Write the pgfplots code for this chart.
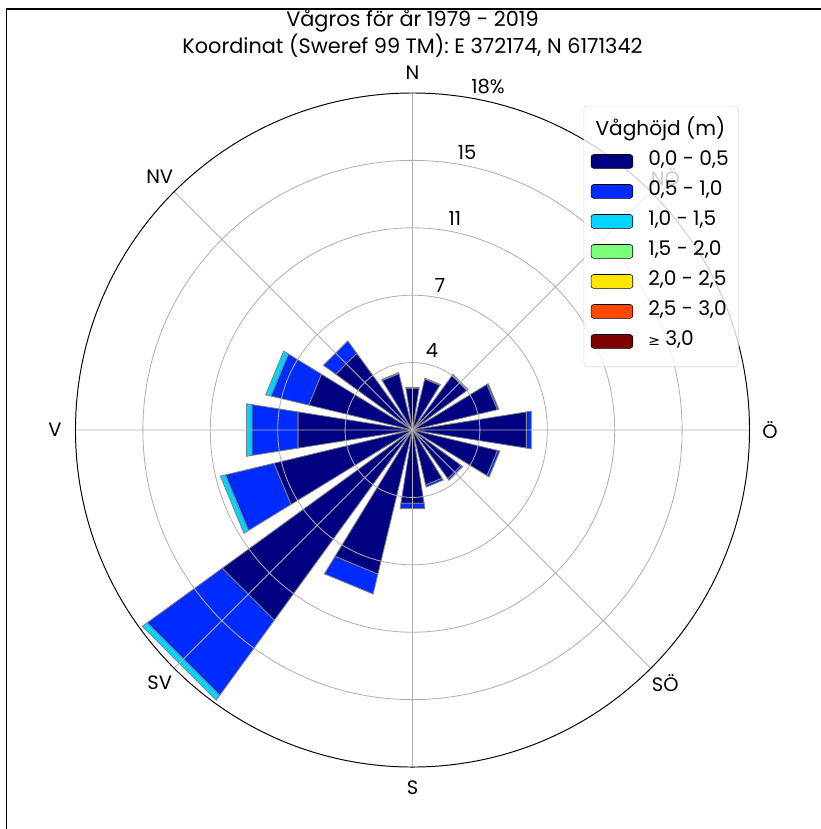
\documentclass[border=0pt]{standalone}
\usepackage{fontspec}
\setmainfont{Poppins}
\newfontfamily\dejavu{DejaVu Sans}
\usepackage{pgfplots}
\pgfplotsset{compat=1.18}
\usepgfplotslibrary{polar}
\definecolor{c1}{HTML}{000080}
\definecolor{c2}{HTML}{002BFF}
\definecolor{c3}{HTML}{00D4FF}
\definecolor{c4}{HTML}{7BFF7B}
\definecolor{c5}{HTML}{FFE600}
\definecolor{c6}{HTML}{FF4800}
\definecolor{c7}{HTML}{800000}
\pgfplotsset{
  s1/.style={fill=c1, draw=gray, line width=0.6pt, forget plot, mark=none},
  s2/.style={fill=c2, draw=gray, line width=0.6pt, forget plot, mark=none},
  s3/.style={fill=c3, draw=gray, line width=0.6pt, forget plot, mark=none},
}
\begin{document}
\begin{tikzpicture}
\path[use as bounding box] (0,0) rectangle (591.12pt,-596.88pt);
\draw[line width=1.1pt] (4.7pt,-596.88pt) -- (4.7pt,-6.5pt) -- (591.12pt,-6.5pt);
\node[font=\fontsize{15}{17}\selectfont, anchor=base] at (297pt,-18.8pt) {Vågros för år 1979 - 2019};
\node[font=\fontsize{15}{17}\selectfont, anchor=base] at (297pt,-38.4pt) {Koordinat (Sweref 99 TM): E 372174, N 6171342};
\begin{polaraxis}[
  at={(297pt,-309.6pt)}, anchor=center,
  scale only axis, width=485.3pt, height=485.3pt,
  font=\fontsize{14}{16}\selectfont,
  clip=false,
  ymin=0, ymax=18.3,
  xtick={0,45,...,315}, xticklabels={Ö,NÖ,N,NV,V,SV,S,SÖ},
  ytick={3.66,7.32,10.98,14.64}, yticklabels={},
  grid=major, major grid style={color=black!31, line width=0.6pt},
  tick style={draw=none},
  axis line style={line width=0.7pt, black},
  y axis line style={draw=none},
  axis on top,
  xticklabel style={anchor=center, inner sep=0pt,
    xshift={14.8pt*cos(\tick)}, yshift={14.8pt*sin(\tick)}},
  legend style={at={(0.984,0.981)}, anchor=north east, draw=black!15, rounded corners=2pt,
    fill=white, fill opacity=0.8, text opacity=1, draw opacity=1,
    font=\fontsize{14.5}{16}\selectfont, row sep=4.1pt, column sep=9pt,
    inner xsep=5pt, inner ysep=9.5pt,
    nodes={text height=10pt, text depth=3.5pt, inner sep=2pt}},
  legend cell align=left,
  legend image code/.code={\draw[#1, fill opacity=1, draw opacity=1] (0pt,-5pt) rectangle (30pt,5pt);},
]
% legend
\addlegendimage{empty legend}\addlegendentry{\hspace*{-38pt}Våghöjd (m)}
\addlegendimage{fill=c1, draw=black}\addlegendentry{0,0 - 0,5}
\addlegendimage{fill=c2, draw=black}\addlegendentry{0,5 - 1,0}
\addlegendimage{fill=c3, draw=black}\addlegendentry{1,0 - 1,5}
\addlegendimage{fill=c4, draw=black}\addlegendentry{1,5 - 2,0}
\addlegendimage{fill=c5, draw=black}\addlegendentry{2,0 - 2,5}
\addlegendimage{fill=c6, draw=black}\addlegendentry{2,5 - 3,0}
\addlegendimage{fill=c7, draw=black}\addlegendentry{{\dejavu\fontsize{10}{12}\selectfont ≥} 3,0}
% 0.0-0.5 m
\addplot[s1] coordinates {(90,0) (81,2.30) (99,2.30) (90,0)};
\addplot[s1] coordinates {(67.5,0) (58.5,2.85) (76.5,2.85) (67.5,0)};
\addplot[s1] coordinates {(45,0) (36,3.66) (54,3.66) (45,0)};
\addplot[s1] coordinates {(22.5,0) (13.5,4.74) (31.5,4.74) (22.5,0)};
\addplot[s1] coordinates {(0,0) (-9,6.26) (9,6.26) (0,0)};
\addplot[s1] coordinates {(-22.5,0) (-31.5,4.75) (-13.5,4.75) (-22.5,0)};
\addplot[s1] coordinates {(-45,0) (-54,3.27) (-36,3.27) (-45,0)};
\addplot[s1] coordinates {(-67.5,0) (-76.5,3.07) (-58.5,3.07) (-67.5,0)};
\addplot[s1] coordinates {(-90,0) (-99,4.03) (-81,4.03) (-90,0)};
\addplot[s1] coordinates {(-112.5,0) (-121.5,8.05) (-103.5,8.05) (-112.5,0)};
\addplot[s1] coordinates {(-135,0) (-144,12.77) (-126,12.77) (-135,0)};
\addplot[s1] coordinates {(-157.5,0) (-166.5,7.74) (-148.5,7.74) (-157.5,0)};
\addplot[s1] coordinates {(180,0) (171,6.30) (189,6.30) (180,0)};
\addplot[s1] coordinates {(157.5,0) (148.5,5.80) (166.5,5.80) (157.5,0)};
\addplot[s1] coordinates {(135,0) (126,5.15) (144,5.15) (135,0)};
\addplot[s1] coordinates {(112.5,0) (103.5,3.15) (121.5,3.15) (112.5,0)};
% 0.5-1.0 m
\addplot[s2] coordinates {(81,2.30) (99,2.30) (99,2.35) (81,2.35) (81,2.30)};
\addplot[s2] coordinates {(58.5,2.85) (76.5,2.85) (76.5,2.90) (58.5,2.90) (58.5,2.85)};
\addplot[s2] coordinates {(36,3.66) (54,3.66) (54,3.73) (36,3.73) (36,3.66)};
\addplot[s2] coordinates {(13.5,4.74) (31.5,4.74) (31.5,4.82) (13.5,4.82) (13.5,4.74)};
\addplot[s2] coordinates {(-9,6.26) (9,6.26) (9,6.53) (-9,6.53) (-9,6.26)};
\addplot[s2] coordinates {(-31.5,4.75) (-13.5,4.75) (-13.5,4.88) (-31.5,4.88) (-31.5,4.75)};
\addplot[s2] coordinates {(-54,3.27) (-36,3.27) (-36,3.37) (-54,3.37) (-54,3.27)};
\addplot[s2] coordinates {(-76.5,3.07) (-58.5,3.07) (-58.5,3.19) (-76.5,3.19) (-76.5,3.07)};
\addplot[s2] coordinates {(-99,4.03) (-81,4.03) (-81,4.32) (-99,4.32) (-99,4.03)};
\addplot[s2] coordinates {(-121.5,8.05) (-103.5,8.05) (-103.5,9.16) (-121.5,9.16) (-121.5,8.05)};
\addplot[s2] coordinates {(-144,12.77) (-126,12.77) (-126,17.81) (-144,17.81) (-144,12.77)};
\addplot[s2] coordinates {(-166.5,7.74) (-148.5,7.74) (-148.5,10.45) (-166.5,10.45) (-166.5,7.74)};
\addplot[s2] coordinates {(171,6.30) (189,6.30) (189,8.83) (171,8.83) (171,6.30)};
\addplot[s2] coordinates {(148.5,5.80) (166.5,5.80) (166.5,7.91) (148.5,7.91) (148.5,5.80)};
\addplot[s2] coordinates {(126,5.15) (144,5.15) (144,5.98) (126,5.98) (126,5.15)};
\addplot[s2] coordinates {(103.5,3.15) (121.5,3.15) (121.5,3.21) (103.5,3.21) (103.5,3.15)};
% 1.0-1.5 m
\addplot[s3] coordinates {(-144,17.81) (-126,17.81) (-126,18.14) (-144,18.14) (-144,17.81)};
\addplot[s3] coordinates {(-166.5,10.45) (-148.5,10.45) (-148.5,10.73) (-166.5,10.73) (-166.5,10.45)};
\addplot[s3] coordinates {(171,8.83) (189,8.83) (189,9.13) (171,9.13) (171,8.83)};
\addplot[s3] coordinates {(148.5,7.91) (166.5,7.91) (166.5,8.20) (148.5,8.20) (148.5,7.91)};
% radial labels
\node at (axis cs:76.1,4.42) {4};
\node at (axis cs:79.3,8.01) {7};
\node at (axis cs:78.7,11.74) {11};
\node at (axis cs:78.9,15.38) {15};
\node at (axis cs:77.6,19.07) {18\%};
\end{polaraxis}
\end{tikzpicture}
\end{document}
